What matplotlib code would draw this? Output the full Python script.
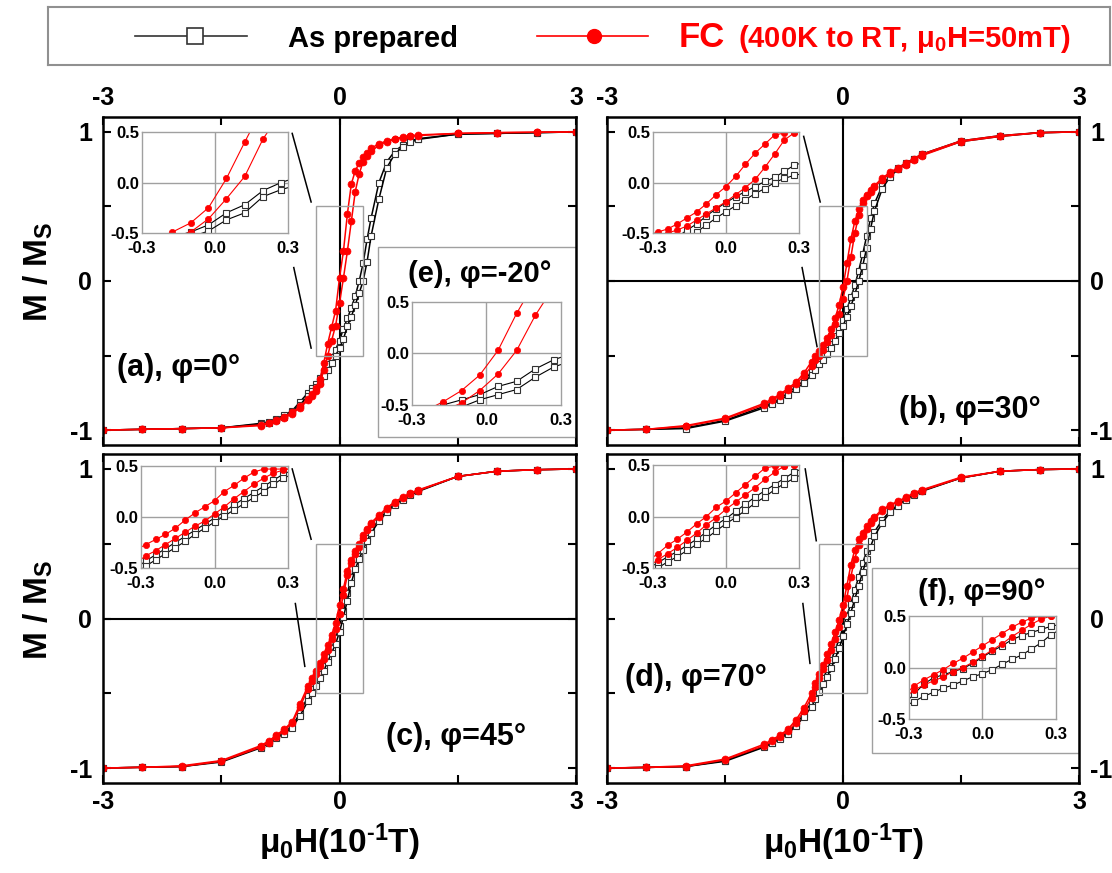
import matplotlib
matplotlib.use("Agg")
import matplotlib.pyplot as plt
from matplotlib.patches import Rectangle
from matplotlib.lines import Line2D

plt.rcParams['font.family'] = ['Liberation Sans', 'DejaVu Sans']
plt.rcParams['font.weight'] = 'bold'
plt.rcParams['axes.unicode_minus'] = False
plt.rcParams['mathtext.fontset'] = 'custom'
plt.rcParams['mathtext.rm'] = 'Liberation Sans:bold'
plt.rcParams['mathtext.it'] = 'Liberation Sans:bold'
plt.rcParams['mathtext.bf'] = 'Liberation Sans:bold'
plt.rcParams['mathtext.default'] = 'rm'

### ------- Data ------- ##
# field sweep points, mu0H in 10^-1 T (shared by every main loop)
H = [-3.0, -2.5, -2.0, -1.5, -1.0, -0.9, -0.8, -0.7, -0.6, -0.5, -0.4, -0.35, -0.3,
     -0.25, -0.2, -0.15, -0.1, -0.05, 0.0, 0.05, 0.1, 0.15, 0.2, 0.25, 0.3, 0.35,
     0.4, 0.5, 0.6, 0.7, 0.8, 0.9, 1.0, 1.5, 2.0, 2.5, 3.0]

# (a) phi = 0 deg ; "dn" = branch swept from +3 down, "up" = branch swept from -3 up
A_BLK_DN = [-1.0, -0.995, -0.99, -0.985, -0.955, -0.945, -0.925, -0.9, -0.87, -0.81, -0.75, -0.72, -0.69,
            -0.65, -0.61, -0.56, -0.51, -0.46, -0.4, -0.32, -0.25, -0.18, -0.1, 0.0, 0.12, 0.28,
            0.42, 0.66, 0.8, 0.87, 0.91, 0.94, 0.955, 0.985, 0.99, 0.995, 1.0]
A_BLK_UP = [-1.0, -0.995, -0.99, -0.985, -0.96, -0.95, -0.93, -0.91, -0.88, -0.83, -0.77, -0.74, -0.71,
            -0.68, -0.64, -0.6, -0.55, -0.5, -0.45, -0.39, -0.3, -0.24, -0.16, -0.08, 0.0, 0.13,
            0.3, 0.55, 0.76, 0.85, 0.9, 0.93, 0.95, 0.985, 0.99, 0.995, 1.0]
A_RED_DN = [-1.0, -0.995, -0.99, -0.985, -0.965, -0.95, -0.93, -0.91, -0.88, -0.84, -0.79, -0.76, -0.72,
            -0.66, -0.55, -0.42, -0.31, -0.2, 0.02, 0.2, 0.45, 0.65, 0.74, 0.79, 0.83, 0.86,
            0.89, 0.92, 0.94, 0.955, 0.965, 0.975, 0.98, 0.99, 0.995, 0.998, 1.0]
A_RED_UP = [-1.0, -0.995, -0.99, -0.985, -0.97, -0.955, -0.94, -0.92, -0.89, -0.85, -0.8, -0.77, -0.74,
            -0.69, -0.6, -0.5, -0.4, -0.3, -0.15, 0.02, 0.2, 0.4, 0.6, 0.72, 0.8, 0.84,
            0.87, 0.91, 0.935, 0.95, 0.96, 0.97, 0.975, 0.99, 0.995, 0.998, 1.0]

# (b) phi = 30 deg
B_BLK_DN = [-1.0, -0.995, -0.985, -0.935, -0.84, -0.815, -0.79, -0.75, -0.71, -0.67, -0.61, -0.57, -0.53,
            -0.5, -0.46, -0.42, -0.37, -0.32, -0.26, -0.19, -0.11, -0.03, 0.07, 0.18, 0.3, 0.42,
            0.52, 0.64, 0.71, 0.76, 0.79, 0.82, 0.85, 0.94, 0.975, 0.995, 1.0]
B_BLK_UP = [-1.0, -0.995, -0.99, -0.94, -0.85, -0.825, -0.8, -0.765, -0.725, -0.685, -0.63, -0.6, -0.56,
            -0.53, -0.49, -0.45, -0.4, -0.35, -0.3, -0.24, -0.17, -0.09, 0.0, 0.1, 0.22, 0.35,
            0.47, 0.62, 0.7, 0.75, 0.785, 0.815, 0.845, 0.935, 0.97, 0.995, 1.0]
B_RED_DN = [-1.0, -0.995, -0.97, -0.92, -0.82, -0.79, -0.76, -0.72, -0.68, -0.62, -0.54, -0.5, -0.47,
            -0.43, -0.38, -0.32, -0.25, -0.16, -0.04, 0.12, 0.28, 0.4, 0.48, 0.54, 0.58, 0.61,
            0.64, 0.69, 0.73, 0.76, 0.79, 0.82, 0.85, 0.94, 0.975, 0.995, 1.0]
B_RED_UP = [-1.0, -0.995, -0.975, -0.925, -0.83, -0.8, -0.77, -0.73, -0.69, -0.64, -0.57, -0.53, -0.5,
            -0.46, -0.41, -0.36, -0.29, -0.22, -0.12, 0.0, 0.16, 0.32, 0.44, 0.52, 0.57, 0.6,
            0.63, 0.68, 0.72, 0.75, 0.78, 0.81, 0.84, 0.935, 0.97, 0.995, 1.0]

# (c) phi = 45 deg
C_BLK_DN = [-1.0, -0.995, -0.99, -0.955, -0.86, -0.83, -0.795, -0.76, -0.72, -0.63, -0.52, -0.47, -0.42,
            -0.37, -0.32, -0.26, -0.2, -0.13, -0.05, 0.05, 0.17, 0.28, 0.36, 0.42, 0.48, 0.54,
            0.59, 0.66, 0.72, 0.765, 0.8, 0.83, 0.855, 0.95, 0.985, 0.995, 1.0]
C_BLK_UP = [-1.0, -0.995, -0.99, -0.96, -0.865, -0.835, -0.8, -0.77, -0.73, -0.65, -0.55, -0.5, -0.45,
            -0.4, -0.35, -0.29, -0.23, -0.17, -0.09, 0.01, 0.12, 0.24, 0.33, 0.4, 0.46, 0.52,
            0.57, 0.65, 0.71, 0.76, 0.795, 0.825, 0.85, 0.95, 0.985, 0.995, 1.0]
C_RED_DN = [-1.0, -0.995, -0.985, -0.95, -0.85, -0.82, -0.78, -0.74, -0.69, -0.57, -0.45, -0.4, -0.35,
            -0.3, -0.24, -0.18, -0.11, -0.03, 0.09, 0.2, 0.32, 0.39, 0.45, 0.5, 0.56, 0.6,
            0.64, 0.69, 0.74, 0.78, 0.81, 0.84, 0.86, 0.95, 0.985, 0.995, 1.0]
C_RED_UP = [-1.0, -0.995, -0.99, -0.955, -0.86, -0.83, -0.79, -0.75, -0.7, -0.59, -0.47, -0.42, -0.37,
            -0.32, -0.27, -0.21, -0.14, -0.07, 0.03, 0.16, 0.29, 0.37, 0.43, 0.48, 0.54, 0.59,
            0.63, 0.68, 0.73, 0.775, 0.805, 0.835, 0.855, 0.95, 0.985, 0.995, 1.0]

# (d) phi = 70 deg
D_BLK_DN = [-1.0, -0.996, -0.99, -0.95, -0.855, -0.83, -0.8, -0.76, -0.71, -0.64, -0.56, -0.5, -0.45,
            -0.4, -0.34, -0.28, -0.21, -0.14, -0.06, 0.02, 0.1, 0.19, 0.28, 0.37, 0.45, 0.52,
            0.58, 0.66, 0.72, 0.76, 0.8, 0.83, 0.855, 0.94, 0.985, 0.996, 1.0]
D_BLK_UP = [-1.0, -0.996, -0.99, -0.955, -0.86, -0.835, -0.805, -0.77, -0.72, -0.66, -0.59, -0.54, -0.49,
            -0.44, -0.39, -0.33, -0.27, -0.2, -0.12, -0.04, 0.04, 0.13, 0.22, 0.31, 0.4, 0.48,
            0.55, 0.64, 0.71, 0.755, 0.795, 0.825, 0.85, 0.94, 0.985, 0.996, 1.0]
D_RED_DN = [-1.0, -0.995, -0.985, -0.94, -0.84, -0.81, -0.78, -0.74, -0.68, -0.6, -0.5, -0.43, -0.37,
            -0.31, -0.24, -0.17, -0.09, -0.01, 0.09, 0.22, 0.36, 0.46, 0.53, 0.57, 0.62, 0.65,
            0.68, 0.73, 0.76, 0.785, 0.81, 0.84, 0.86, 0.945, 0.985, 0.996, 1.0]
D_RED_UP = [-1.0, -0.996, -0.99, -0.945, -0.85, -0.82, -0.79, -0.75, -0.7, -0.62, -0.53, -0.46, -0.4,
            -0.34, -0.28, -0.21, -0.14, -0.06, 0.03, 0.14, 0.28, 0.4, 0.49, 0.55, 0.6, 0.64,
            0.67, 0.72, 0.755, 0.78, 0.805, 0.835, 0.855, 0.94, 0.985, 0.996, 1.0]

# inset field points
H_IN_COARSE = [-0.325, -0.25, -0.175, -0.1, -0.027, 0.047, 0.122, 0.197, 0.272, 0.347]
H_IN_FINE = [-0.32, -0.28, -0.24, -0.2, -0.16, -0.12, -0.08, -0.04, 0.0, 0.04, 0.08, 0.12,
             0.16, 0.2, 0.24, 0.28, 0.32]

# inset of (a)
IA_BLK_DN = [-0.65, -0.58, -0.54, -0.49, -0.42, -0.3, -0.22, -0.08, 0.0, 0.06]
IA_BLK_UP = [-0.7, -0.64, -0.58, -0.54, -0.48, -0.37, -0.3, -0.14, -0.07, -0.02]
IA_RED_DN = [-0.62, -0.56, -0.49, -0.4, -0.25, 0.04, 0.4, 0.75, 0.85, 0.9]
IA_RED_UP = [-0.7, -0.62, -0.55, -0.49, -0.36, -0.16, 0.06, 0.43, 0.7, 0.8]

# (e) phi = -20 deg
IE_BLK_DN = [-0.62, -0.56, -0.5, -0.45, -0.4, -0.32, -0.27, -0.15, -0.06, 0.0]
IE_BLK_UP = [-0.68, -0.62, -0.56, -0.52, -0.45, -0.4, -0.35, -0.23, -0.13, -0.07]
IE_RED_DN = [-0.62, -0.56, -0.47, -0.36, -0.21, 0.03, 0.39, 0.7, 0.85, 0.9]
IE_RED_UP = [-0.7, -0.62, -0.56, -0.48, -0.36, -0.2, 0.03, 0.37, 0.65, 0.8]

# inset of (b)
IB_BLK_DN = [-0.75, -0.68, -0.61, -0.54, -0.47, -0.41, -0.33, -0.26, -0.2, -0.14, -0.09, -0.04,
             0.01, 0.05, 0.11, 0.17, 0.2]
IB_BLK_UP = [-0.8, -0.72, -0.65, -0.6, -0.54, -0.49, -0.42, -0.35, -0.29, -0.23, -0.17, -0.11,
             -0.06, 0.0, 0.04, 0.07, 0.09]
IB_RED_DN = [-0.52, -0.49, -0.46, -0.41, -0.35, -0.29, -0.21, -0.12, -0.04, 0.06, 0.18, 0.29,
             0.38, 0.47, 0.49, 0.5, 0.52]
IB_RED_UP = [-0.56, -0.53, -0.5, -0.47, -0.43, -0.37, -0.31, -0.25, -0.19, -0.12, -0.05, 0.03,
             0.15, 0.28, 0.42, 0.49, 0.52]

# inset of (c)
IC_BLK_DN = [-0.5, -0.43, -0.37, -0.31, -0.25, -0.19, -0.13, -0.07, -0.01, 0.05, 0.12, 0.18,
             0.24, 0.3, 0.36, 0.42, 0.46]
IC_BLK_UP = [-0.55, -0.48, -0.42, -0.36, -0.3, -0.24, -0.17, -0.11, -0.05, 0.01, 0.07, 0.13,
             0.19, 0.25, 0.32, 0.38, 0.42]
IC_RED_DN = [-0.32, -0.27, -0.22, -0.17, -0.11, -0.03, 0.04, 0.1, 0.16, 0.25, 0.31, 0.38,
             0.44, 0.47, 0.47, 0.47, 0.47]
IC_RED_UP = [-0.45, -0.38, -0.33, -0.27, -0.21, -0.15, -0.09, -0.04, 0.03, 0.1, 0.18, 0.25,
             0.32, 0.38, 0.43, 0.46, 0.48]

# inset of (d)
ID_BLK_DN = [-0.5, -0.45, -0.39, -0.34, -0.28, -0.22, -0.15, -0.08, -0.02, 0.05, 0.12, 0.19,
             0.25, 0.31, 0.37, 0.43, 0.47]
ID_BLK_UP = [-0.55, -0.5, -0.44, -0.39, -0.33, -0.27, -0.21, -0.14, -0.07, -0.01, 0.06, 0.13,
             0.19, 0.26, 0.32, 0.37, 0.42]
ID_RED_DN = [-0.43, -0.36, -0.28, -0.22, -0.15, -0.07, 0.0, 0.09, 0.15, 0.23, 0.31, 0.39,
             0.47, 0.49, 0.49, 0.5, 0.5]
ID_RED_UP = [-0.49, -0.42, -0.36, -0.3, -0.23, -0.16, -0.08, -0.01, 0.07, 0.14, 0.21, 0.28,
             0.36, 0.43, 0.49, 0.5, 0.5]

# (f) phi = 90 deg
IF_BLK_DN = [-0.35, -0.26, -0.16, -0.1, -0.07, -0.04, -0.01, 0.04, 0.1, 0.16, 0.21, 0.27,
             0.31, 0.34, 0.37, 0.4, 0.42]
IF_BLK_UP = [-0.38, -0.33, -0.28, -0.24, -0.2, -0.17, -0.13, -0.09, -0.06, -0.02, 0.03, 0.08,
             0.12, 0.18, 0.24, 0.32, 0.37]
IF_RED_DN = [-0.27, -0.18, -0.12, -0.07, -0.02, 0.04, 0.09, 0.15, 0.21, 0.27, 0.33, 0.39,
             0.44, 0.48, 0.5, 0.5, 0.5]
IF_RED_UP = [-0.3, -0.22, -0.17, -0.13, -0.09, -0.04, 0.0, 0.05, 0.11, 0.17, 0.23, 0.3,
             0.36, 0.42, 0.47, 0.5, 0.5]

PANEL_LABELS = ["(a), φ=0°", "(b), φ=30°", "(c), φ=45°", "(d), φ=70°"]
X_TICKS = [-3, 0, 3]
Y_TICKS = [-1, 0, 1]
XLABEL = r"μ$_0$H(10$^{\text{-1}}$T)"
YLABEL = r"M / M$_{\text{S}}$"

### ------- Plot helpers ------- ##
BLK = 'black'
RED = '#ff0000'


def loop(ax, h, blk_dn, blk_up, red_dn, red_up, ms_sq, ms_ci, lw):
    for m in (blk_dn, blk_up):
        ax.plot(h, m, '-s', color=BLK, lw=lw, ms=ms_sq, mfc='white', mec='#333333', mew=0.8)
    for m in (red_dn, red_up):
        ax.plot(h, m, '-o', color=RED, lw=lw, ms=ms_ci, mfc=RED, mec=RED, mew=0.5)


def style_main(ax, top, left, hline):
    ax.set_xlim(-3, 3)
    ax.set_ylim(-1.1, 1.1)
    ax.set_xticks(X_TICKS)
    ax.set_xticklabels([str(t) for t in X_TICKS])
    ax.set_xticks([-1.5, 1.5], minor=True)
    ax.set_yticks(Y_TICKS)
    ax.set_yticklabels([str(t) for t in Y_TICKS])
    ax.set_yticks([-0.5, 0.5], minor=True)
    ax.tick_params(which='both', direction='in', top=True, bottom=True, left=True, right=True,
                   length=6, width=1.5, labelsize=18, labeltop=top, labelbottom=not top,
                   labelleft=left, labelright=not left)
    ax.tick_params(axis='x', pad=5)
    ax.tick_params(axis='y', pad=8)
    for s in ax.spines.values():
        s.set_linewidth(1.8)
        s.set_zorder(8)
    ax.axvline(0, color='black', lw=1.5, zorder=1)
    if hline:
        ax.axhline(0, color='black', lw=1.5, zorder=1)
    # zoom window
    ax.add_patch(Rectangle((-0.3, -0.5), 0.6, 1.0, fill=False, ec='#a0a0a0', lw=1, zorder=3))


def style_inset(ia):
    ia.set_xlim(-0.3, 0.3)
    ia.set_ylim(-0.5, 0.5)
    ia.set_xticks([-0.3, 0.0, 0.3])
    ia.set_xticklabels(['-0.3', '0.0', '0.3'])
    ia.set_yticks([-0.5, 0.0, 0.5])
    ia.set_yticklabels(['-0.5', '0.0', '0.5'])
    ia.tick_params(axis='x', length=0, labelsize=12, pad=6)
    ia.tick_params(axis='y', length=0, labelsize=12, pad=2)
    for s in ia.spines.values():
        s.set_color('#a0a0a0')
        s.set_linewidth(1)
    ia.axvline(0, color='#a0a0a0', lw=1, zorder=0)
    ia.axhline(0, color='#a0a0a0', lw=1, zorder=0)


### ------- Figure ------- ##
fig = plt.figure(figsize=(11.12, 8.73), dpi=100)
W, Hp = 1112.0, 873.0


def px_axes(l, t, r, b):
    return fig.add_axes([l / W, 1 - b / Hp, (r - l) / W, (b - t) / Hp])


ax_a = px_axes(103, 117, 576, 445)
ax_b = px_axes(607, 117, 1079, 445)
ax_c = px_axes(103, 454, 576, 783)
ax_d = px_axes(607, 454, 1079, 783)

loop(ax_a, H, A_BLK_DN, A_BLK_UP, A_RED_DN, A_RED_UP, 4.5, 5, 1.1)
loop(ax_b, H, B_BLK_DN, B_BLK_UP, B_RED_DN, B_RED_UP, 4.5, 5, 1.1)
loop(ax_c, H, C_BLK_DN, C_BLK_UP, C_RED_DN, C_RED_UP, 4.5, 5, 1.1)
loop(ax_d, H, D_BLK_DN, D_BLK_UP, D_RED_DN, D_RED_UP, 4.5, 5, 1.1)

style_main(ax_a, top=True, left=True, hline=False)
style_main(ax_b, top=True, left=False, hline=True)
style_main(ax_c, top=False, left=True, hline=True)
style_main(ax_d, top=False, left=False, hline=False)

# lines from zoom window to its inset (data coords of each panel)
zoom_lines = [
    (ax_a, [(-0.60, 0.99, -0.36, 0.53), (-0.58, 0.09, -0.36, -0.45)]),
    (ax_b, [(-0.50, 0.97, -0.29, 0.53), (-0.52, 0.09, -0.33, -0.44)]),
    (ax_c, [(-0.60, 1.00, -0.36, 0.53), (-0.56, 0.10, -0.44, -0.32)]),
    (ax_d, [(-0.48, 1.00, -0.34, 0.52), (-0.51, 0.10, -0.42, -0.30)]),
]
for ax, segs in zoom_lines:
    for x1, y1, x2, y2 in segs:
        ax.plot([x1, x2], [y1, y2], color='black', lw=1.1, zorder=3)

# zoom insets
ins_a = ax_a.inset_axes([0.0825, 0.6463, 0.3087, 0.308])
ins_b = ax_b.inset_axes([0.0975, 0.6463, 0.309, 0.308])
ins_c = ax_c.inset_axes([0.0803, 0.6535, 0.311, 0.31])
ins_d = ax_d.inset_axes([0.0975, 0.6535, 0.309, 0.313])

loop(ins_a, H_IN_COARSE, IA_BLK_DN, IA_BLK_UP, IA_RED_DN, IA_RED_UP, 4, 4.5, 0.8)
loop(ins_b, H_IN_FINE, IB_BLK_DN, IB_BLK_UP, IB_RED_DN, IB_RED_UP, 4, 4.5, 0.8)
loop(ins_c, H_IN_FINE, IC_BLK_DN, IC_BLK_UP, IC_RED_DN, IC_RED_UP, 4, 4.5, 0.8)
loop(ins_d, H_IN_FINE, ID_BLK_DN, ID_BLK_UP, ID_RED_DN, ID_RED_UP, 4, 4.5, 0.8)
for ia in (ins_a, ins_b, ins_c, ins_d):
    style_inset(ia)

# extra angle boxes (e) in (a) and (f) in (d)
ax_a.add_patch(Rectangle((0.581, 0.024), 0.419, 0.579, transform=ax_a.transAxes,
                         fc='white', ec='#a0a0a0', lw=1, zorder=4))
ax_d.add_patch(Rectangle((0.561, 0.091), 0.439, 0.562, transform=ax_d.transAxes,
                         fc='white', ec='#a0a0a0', lw=1, zorder=4))
ins_e = ax_a.inset_axes([0.653, 0.122, 0.315, 0.314])
ins_f = ax_d.inset_axes([0.64, 0.1945, 0.311, 0.313])
loop(ins_e, H_IN_COARSE, IE_BLK_DN, IE_BLK_UP, IE_RED_DN, IE_RED_UP, 4, 4.5, 0.8)
loop(ins_f, H_IN_FINE, IF_BLK_DN, IF_BLK_UP, IF_RED_DN, IF_RED_UP, 4, 4.5, 0.8)
style_inset(ins_e)
style_inset(ins_f)
ax_a.text(0.797, 0.522, "(e), φ=-20°", transform=ax_a.transAxes, ha='center', va='center',
          fontsize=21, fontweight='bold', zorder=6)
ax_d.text(0.794, 0.58, "(f), φ=90°", transform=ax_d.transAxes, ha='center', va='center',
          fontsize=21, fontweight='bold', zorder=6)

# panel labels
ax_a.text(0.03, 0.235, PANEL_LABELS[0], transform=ax_a.transAxes, ha='left', va='center',
          fontsize=22, fontweight='bold', zorder=6)
ax_b.text(0.769, 0.107, PANEL_LABELS[1], transform=ax_b.transAxes, ha='center', va='center',
          fontsize=22, fontweight='bold', zorder=6)
ax_c.text(0.746, 0.14, PANEL_LABELS[2], transform=ax_c.transAxes, ha='center', va='center',
          fontsize=22, fontweight='bold', zorder=6)
ax_d.text(0.189, 0.319, PANEL_LABELS[3], transform=ax_d.transAxes, ha='center', va='center',
          fontsize=22, fontweight='bold', zorder=6)

# axis titles
fig.text(38 / W, 1 - 272 / Hp, YLABEL, rotation=90, ha='center', va='center', fontsize=24)
fig.text(38 / W, 1 - 610 / Hp, YLABEL, rotation=90, ha='center', va='center', fontsize=24)
fig.text(339 / W, 1 - 853 / Hp, XLABEL, ha='center', va='baseline', fontsize=24)
fig.text(843 / W, 1 - 853 / Hp, XLABEL, ha='center', va='baseline', fontsize=24)

# legend box on top
leg = px_axes(48, 7, 1110, 65)
leg.set_xlim(0, 1)
leg.set_ylim(0, 1)
leg.set_xticks([])
leg.set_yticks([])
for s in leg.spines.values():
    s.set_color('#909090')
    s.set_linewidth(1.5)
leg.add_line(Line2D([0.082, 0.187], [0.5, 0.5], color='#333333', lw=1.2))
leg.plot([0.138], [0.5], 's', ms=12, mfc='white', mec='#333333', mew=1.2)
leg.add_line(Line2D([0.460, 0.565], [0.5, 0.5], color=RED, lw=1.2))
leg.plot([0.514], [0.5], 'o', ms=10, mfc=RED, mec=RED)
leg.text(0.226, 0.31, "As prepared", fontsize=21, fontweight='bold', va='baseline', ha='left')
leg.text(0.594, 0.31, "FC", fontsize=25, fontweight='bold', color=RED, va='baseline', ha='left')
leg.text(0.650, 0.31, "(400K to RT, μ$_0$H=50mT)", fontsize=21, fontweight='bold', color=RED,
         va='baseline', ha='left')

fig.savefig("out.png", dpi=100)
